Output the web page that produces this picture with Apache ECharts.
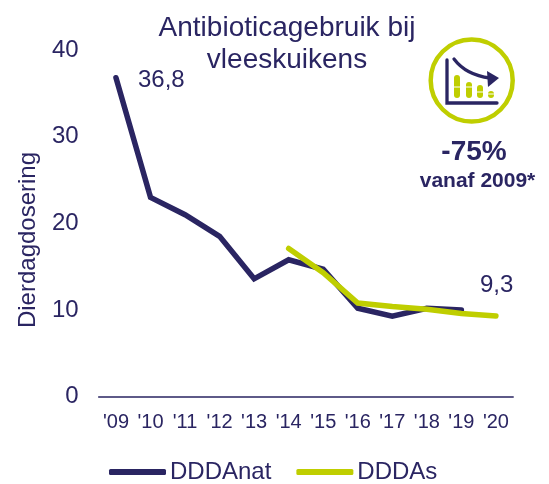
<!DOCTYPE html>
<html><head><meta charset="utf-8">
<style>html,body{margin:0;padding:0;background:#fff}#c{width:549px;height:484px}</style>
<script src="https://cdn.jsdelivr.net/npm/echarts@6/dist/echarts.min.js"></script>
</head><body><div id="c"></div>
<script>
const categories = ["'09","'10","'11","'12","'13","'14","'15","'16","'17","'18","'19","'20"];
const dddaNat = [36.8,23,21,18.5,13.6,15.8,14.7,10.2,9.3,10.2,10,null];
const dddaS = [null,null,null,null,null,17.1,14.3,10.8,10.4,10.1,9.6,9.3];
const navy = '#2A2562', green = '#BFCE00', font = '"Liberation Sans", Arial, sans-serif';
const chart = echarts.init(document.getElementById('c'), null, {renderer:'canvas'});
const iconBars = [[457,75,98],[469,82,98],[480,85,98],[491,91,98]];
const bars = iconBars.map(b => ({type:'rect',shape:{x:b[0]-3,y:b[1],width:6,height:b[2]-b[1],r:3},style:{fill:green},z:10}));
const gaps = [[457,87],[469,87],[480,92],[491,94]];
const gapLines = gaps.map(g => ({type:'line',shape:{x1:g[0]-4,y1:g[1],x2:g[0]+4,y2:g[1]},style:{stroke:'#fff',lineWidth:1},z:11}));
chart.setOption({
  animation:false,
  textStyle:{fontFamily:font},
  title:{text:'Antibioticagebruik bij\nvleeskuikens',left:282,top:7,textAlign:'center',
    textStyle:{color:navy,fontSize:28,fontWeight:'normal',fontFamily:font,lineHeight:32}},
  legend:{left:104,top:455,itemWidth:57,itemHeight:6,itemGap:25,icon:'roundRect',
    textStyle:{color:navy,fontSize:24,fontFamily:font,padding:[0,0,0,-1]},
    data:['DDDAnat','DDDAs']},
  grid:{left:98.7,width:414.5,top:50,height:346.7},
  xAxis:{type:'category',data:categories,axisTick:{show:false},
     axisLine:{lineStyle:{color:navy,width:1.5}},
     axisLabel:{color:navy,fontSize:20,margin:16,interval:0,fontFamily:font}},
  yAxis:{type:'value',min:0,max:40,interval:10,splitLine:{show:false},axisLine:{show:false},axisTick:{show:false},
     axisLabel:{color:navy,fontSize:24,margin:20,fontFamily:font,padding:[7,0,0,0]}},
  series:[
    {name:'DDDAnat',type:'line',data:dddaNat,showSymbol:false,symbol:'none',
     lineStyle:{color:navy,width:5.5,cap:'round',join:'miter'},itemStyle:{color:navy}},
    {name:'DDDAs',type:'line',data:dddaS,showSymbol:false,symbol:'none',
     lineStyle:{color:green,width:5.5,cap:'round',join:'miter'},itemStyle:{color:green},z:3}
  ],
  graphic:[
    {type:'text',x:28,y:240,rotation:Math.PI/2,style:{text:'Dierdagdosering',fill:navy,font:'24px '+font,align:'center',verticalAlign:'middle'}},
    {type:'text',x:138,y:80,style:{text:'36,8',fill:navy,font:'24px '+font,verticalAlign:'middle'}},
    {type:'text',x:480,y:285,style:{text:'9,3',fill:navy,font:'24px '+font,verticalAlign:'middle'}},
    {type:'circle',shape:{cx:471.7,cy:80.5,r:41},style:{fill:'none',stroke:green,lineWidth:4.5}},
    ...bars,
    ...gapLines,
    {type:'polyline',shape:{points:[[447,60],[447,103],[497,103]]},style:{fill:'none',stroke:navy,lineWidth:3.3,lineCap:'round'},z:12},
    {type:'bezierCurve',shape:{x1:454,y1:59,cpx1:466,cpy1:75,x2:490,y2:78},style:{fill:'none',stroke:navy,lineWidth:3.3,lineCap:'round'},z:12},
    {type:'polygon',shape:{points:[[487,71],[499,78],[488,87]]},style:{fill:navy},z:12},
    {type:'text',x:474,y:152,style:{text:'-75%',fill:navy,font:'bold 28px '+font,align:'center',verticalAlign:'middle'}},
    {type:'text',x:477.5,y:181,style:{text:'vanaf 2009*',fill:navy,font:'bold 21px '+font,align:'center',verticalAlign:'middle'}}
  ]
});
</script></body></html>
